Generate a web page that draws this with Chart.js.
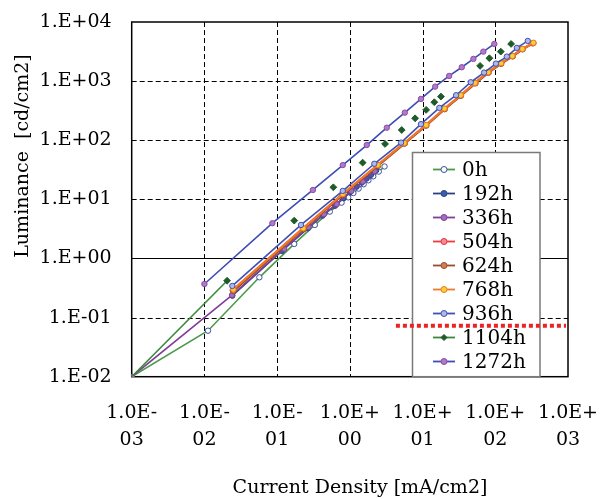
<!DOCTYPE html>
<html>
<head>
<meta charset="utf-8">
<script src="https://cdn.jsdelivr.net/npm/chart.js@4/dist/chart.umd.min.js"></script>
<style>
  html, body { margin: 0; padding: 0; background: #ffffff; }
  canvas { display: block; }
</style>
</head>
<body>
<canvas id="chart" width="600" height="499"></canvas>
<script>
// ---- Data: current density [mA/cm2] vs luminance [cd/cm2] per aging time ----
const seriesLabels = ['0h', '192h', '336h', '504h', '624h', '768h', '936h', '1104h', '1272h'];

const curr0h = [0.001, 0.0112, 0.057, 0.172, 0.33, 0.53, 0.77, 0.95, 1.12, 1.32, 1.55, 1.8, 2.1, 2.5, 3.0];
const lum0h  = [0.01, 0.06, 0.48, 1.76, 3.69, 6.2, 8.8, 10.8, 12.8, 15.2, 18, 21, 24.5, 29.5, 36];

const curr192h = [0.0242, 0.116, 0.264, 0.42, 0.625, 0.82, 1.0, 1.24, 1.46, 1.7, 1.95, 2.3];
const lum192h  = [0.235, 1.34, 3.24, 5.3, 7.8, 10.5, 13.2, 16.4, 19.2, 22.5, 26, 31];

const curr336h = [0.001, 0.024, 0.125, 0.27, 0.44, 0.66, 1.05, 1.5, 2.2];
const lum336h  = [0.01, 0.24, 1.45, 3.4, 5.6, 8.3, 13.8, 20, 30];

const curr504h = [0.0245, 0.225, 0.79, 2.4, 5.55, 11.0, 19.8, 33.0, 52.0, 79, 118, 170, 233, 325];
const lum504h  = [0.29, 3.2, 12.1, 37.5, 88, 178, 338, 570, 925, 1400, 1990, 2640, 3480, 4350];

const curr624h = [0.025, 0.232, 0.81, 2.45, 5.7, 11.3, 20.2, 33.8, 53.5, 81, 121, 174, 238, 335];
const lum624h  = [0.28, 3.15, 12.0, 37, 88, 177, 335, 565, 915, 1390, 1970, 2620, 3450, 4400];

const curr768h = [0.025, 0.229, 0.80, 2.42, 5.62, 11.2, 20.0, 33.5, 52.7, 80, 120, 172, 236, 334];
const lum768h  = [0.30, 3.24, 12.3, 38.2, 90, 181, 343, 577, 933, 1416, 2011, 2667, 3500, 4450];

const curr936h = [0.0242, 0.213, 0.80, 2.17, 5.06, 9.5, 17.0, 28.9, 46, 70, 102, 144, 198, 280];
const lum936h  = [0.343, 3.69, 13.9, 40, 91, 187, 352, 577, 957, 1393, 1977, 2600, 3648, 4786];

const curr1104h = [0.001, 0.0205, 0.172, 0.593, 1.50, 3.05, 5.17, 7.9, 11.2, 14.5, 17.9, 61.8, 83, 119, 165];
const lum1104h  = [0.01, 0.42, 4.37, 16, 41.8, 86.5, 149, 235, 326, 440, 547, 1807, 2438, 3155, 4256];

const curr1272h = [0.01, 0.086, 0.31, 0.80, 1.71, 3.22, 5.7, 9.5, 14.9, 23.2, 34.6, 50, 68.5, 97];
const lum1272h  = [0.37, 3.95, 14.4, 38, 83, 163, 293, 500, 807, 1224, 1718, 2377, 3155, 4256];

// Axis ticks (decades only) and their labels
const xTickValues = [0.001, 0.01, 0.1, 1, 10, 100, 1000];
const xTickLabels = [['1.0E-', '03'], ['1.0E-', '02'], ['1.0E-', '01'], ['1.0E+', '00'],
                     ['1.0E+', '01'], ['1.0E+', '02'], ['1.0E+', '03']];
const yTickValues = [0.01, 0.1, 1, 10, 100, 1000, 10000];
const yTickLabels = ['1.E-02', '1.E-01', '1.E+00', '1.E+01', '1.E+02', '1.E+03', '1.E+04'];

const xTitle = 'Current Density [mA/cm2]';
const yTitle = 'Luminance  [cd/cm2]';

// Reference level marked with the red dotted line
const markLevel = 0.073;
const markFrom = 4.3;
const solidGridValue = 1;

// ---- Styles ----
const styles = [
  { line: '#4a9a4a', fill: '#ffffff', edge: '#3b4fa0', shape: 'circle', w: 1.6 },
  { line: '#2e3f86', fill: '#3660b0', edge: '#2e3f86', shape: 'circle', w: 1.8 },
  { line: '#7e3f98', fill: '#a070c0', edge: '#7e3f98', shape: 'circle', w: 1.6 },
  { line: '#ee3a3a', fill: '#f58a9a', edge: '#e8303a', shape: 'circle', w: 2.2 },
  { line: '#9a4a2a', fill: '#d08050', edge: '#9a4a2a', shape: 'circle', w: 2 },
  { line: '#f07828', fill: '#f8d030', edge: '#f07828', shape: 'circle', w: 2.2 },
  { line: '#4050b0', fill: '#b0b8e8', edge: '#4050b0', shape: 'circle', w: 1.6 },
  { line: '#3a8a3a', fill: '#1e5a2a', edge: '#1e5a2a', shape: 'rectRot', w: 1.6 },
  { line: '#3d4db5', fill: '#b07ac8', edge: '#8a4aa8', shape: 'circle', w: 1.6 }
];

const xs = [curr0h, curr192h, curr336h, curr504h, curr624h, curr768h, curr936h, curr1104h, curr1272h];
const ys = [lum0h, lum192h, lum336h, lum504h, lum624h, lum768h, lum936h, lum1104h, lum1272h];

const FONT = "'DejaVu Serif', 'Liberation Serif', serif";

const datasets = seriesLabels.map((label, i) => {
  const s = styles[i];
  const ds = {
    label,
    data: xs[i].map((x, k) => ({ x, y: ys[i][k] })),
    showLine: true,
    borderColor: s.line,
    borderWidth: s.w,
    backgroundColor: s.fill,
    pointBackgroundColor: s.fill,
    pointBorderColor: s.edge,
    pointBorderWidth: 1,
    pointRadius: 2.7,
    pointStyle: s.shape,
    order: seriesLabels.length - 1 - i
  };
  if (label === '1104h') {
    // only the first segment carries a line; the remaining points are markers only
    ds.segment = { borderColor: ctx => ctx.p0DataIndex === 0 ? s.line : 'rgba(0,0,0,0)' };
    ds.pointRadius = ctx => ctx.dataIndex === 0 ? 0 : 3.4;
  }
  return ds;
});

// Grid, frame, legend, marker line and axis titles
const decorations = {
  id: 'decorations',
  beforeDatasetsDraw(chart) {
    const { ctx, chartArea: a, scales } = chart;
    ctx.save();
    ctx.strokeStyle = '#000';
    ctx.lineWidth = 1;
    ctx.setLineDash([5, 3]);
    xTickValues.slice(1, -1).forEach(v => {
      const x = Math.round(scales.x.getPixelForValue(v)) + 0.5;
      ctx.beginPath();
      ctx.moveTo(x, a.top);
      ctx.lineTo(x, a.bottom);
      ctx.stroke();
    });
    yTickValues.slice(1, -1).forEach(v => {
      const y = Math.round(scales.y.getPixelForValue(v)) + 0.5;
      ctx.beginPath();
      ctx.moveTo(a.left, y);
      ctx.lineTo(a.right, y);
      ctx.stroke();
    });
    ctx.setLineDash([]);
    const y1 = Math.round(scales.y.getPixelForValue(solidGridValue)) + 0.5;
    ctx.beginPath();
    ctx.moveTo(a.left, y1);
    ctx.lineTo(a.right, y1);
    ctx.stroke();
    ctx.lineWidth = 1.5;
    ctx.strokeRect(a.left, a.top, a.right - a.left, a.bottom - a.top);
    ctx.restore();
  },
  afterDatasetsDraw(chart) {
    const { ctx, chartArea: a, scales } = chart;
    // legend box
    const box = { left: 412.5, top: 152.5, right: 540, bottom: a.bottom };
    ctx.save();
    ctx.fillStyle = '#ffffff';
    ctx.fillRect(box.left, box.top, box.right - box.left, box.bottom - box.top);
    ctx.strokeStyle = '#7a7a7a';
    ctx.lineWidth = 1.5;
    ctx.strokeRect(box.left, box.top, box.right - box.left, box.bottom - box.top);
    ctx.font = '20px ' + FONT;
    ctx.textBaseline = 'middle';
    ctx.textAlign = 'left';
    chart.data.datasets.forEach((ds, i) => {
      const y = 169.5 + i * 24;
      ctx.strokeStyle = ds.borderColor;
      ctx.lineWidth = 1.8;
      ctx.beginPath();
      ctx.moveTo(433, y);
      ctx.lineTo(455, y);
      ctx.stroke();
      ctx.fillStyle = ds.pointBackgroundColor;
      ctx.strokeStyle = ds.pointBorderColor;
      ctx.lineWidth = 1;
      Chart.helpers.drawPoint(ctx, { pointStyle: ds.pointStyle, radius: 3, borderWidth: 1, rotation: 0 }, 444, y);
      ctx.fillStyle = '#000';
      ctx.fillText(ds.label, 462, y + 1);
    });
    // red dotted marker line
    const ym = scales.y.getPixelForValue(markLevel);
    const xm = scales.x.getPixelForValue(markFrom);
    ctx.strokeStyle = '#ee2222';
    ctx.lineWidth = 4;
    ctx.setLineDash([4, 3]);
    ctx.beginPath();
    ctx.moveTo(xm, ym);
    ctx.lineTo(a.right - 2, ym);
    ctx.stroke();
    ctx.restore();
  },
  afterDraw(chart) {
    const { ctx } = chart;
    ctx.save();
    ctx.fillStyle = '#000';
    ctx.font = '19px ' + FONT;
    ctx.textAlign = 'center';
    ctx.textBaseline = 'middle';
    ctx.fillText(xTitle, 360, 488);
    ctx.translate(23, 156);
    ctx.rotate(-Math.PI / 2);
    ctx.fillText(yTitle, 0, 0);
    ctx.restore();
  }
};

new Chart(document.getElementById('chart'), {
  type: 'scatter',
  data: { datasets },
  plugins: [decorations],
  options: {
    responsive: false,
    animation: false,
    events: [],
    layout: { padding: 0 },
    plugins: { legend: { display: false }, tooltip: { enabled: false } },
    scales: {
      x: {
        type: 'logarithmic',
        min: 0.001,
        max: 1000,
        afterBuildTicks: scale => { scale.ticks = xTickValues.map(v => ({ value: v })); },
        afterFit: scale => { scale.height = 122.3; scale.paddingLeft = 0; scale.paddingRight = 32; },
        grid: { display: false, drawTicks: false },
        border: { display: false },
        ticks: {
          autoSkip: false,
          maxRotation: 0,
          padding: 22.5,
          color: '#000',
          font: { family: FONT, size: 19, lineHeight: 1.42 },
          callback: (v, i) => xTickLabels[i]
        }
      },
      y: {
        type: 'logarithmic',
        min: 0.01,
        max: 10000,
        afterBuildTicks: scale => { scale.ticks = yTickValues.map(v => ({ value: v })); },
        afterFit: scale => { scale.width = 131.7; scale.paddingTop = 22; scale.paddingBottom = 0; },
        grid: { display: false, drawTicks: false },
        border: { display: false },
        ticks: {
          autoSkip: false,
          padding: 20,
          color: '#000',
          font: { family: FONT, size: 19 },
          callback: (v, i) => yTickLabels[i]
        }
      }
    }
  }
});
</script>
</body>
</html>
